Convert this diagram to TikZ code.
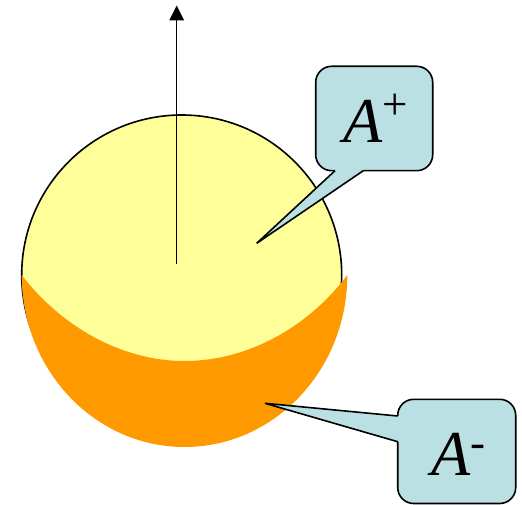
\documentclass[tikz,border=0pt]{standalone}
\usepackage{fontspec}
\setmainfont{Liberation Serif}
\usetikzlibrary{arrows.meta}
\definecolor{sunyellow}{RGB}{255,255,153}
\definecolor{sunorange}{RGB}{255,153,0}
\definecolor{calloutblue}{RGB}{187,224,227}
\begin{document}
\begin{tikzpicture}[x=1pt,y=-1pt,
  outline/.style={line width=1.6pt, draw=black},
  bubble/.style={outline, fill=calloutblue, rounded corners=16pt},
  bigA/.style={anchor=base west, inner sep=0pt, font=\fontsize{64}{64}\selectfont},
  axisarrow/.style={line width=1.5pt, -{Triangle[length=15pt,width=14.7pt]}}]
\useasboundingbox (0,0) rectangle (522,505);

% sphere
\coordinate (centre) at (181.7,275);
\fill[sunyellow] (centre) circle[radius=160];
\draw[outline] (centre) circle[radius=160];
\fill[sunorange] (21.7,275) .. controls (21.7,370) and (94.6,447) .. (184.5,447)
  .. controls (274.4,447) and (347.3,370) .. (347.3,275)
  .. controls (310,325) and (250,361) .. (184.5,361)
  .. controls (120,361) and (60,325) .. (21.7,275) -- cycle;

% axis arrow
\coordinate (axisbase) at (176.7,264);
\coordinate (axistip) at (176.7,5.5);
\draw[axisarrow] (axisbase) -- (axistip);

% callout A+
\draw[bubble] (315.7,66.3) rectangle (432.7,170.7);
\coordinate (ptip) at (256.7,243.3);
\coordinate (pbaseL) at (335,170.7);
\coordinate (pbaseR) at (363.3,170.7);
\fill[calloutblue] (pbaseL) -- (ptip) -- (pbaseR) -- (363.3,165) -- (335,165) -- cycle;
\draw[outline] (pbaseL) -- (ptip) -- (pbaseR);
\node[bigA] (aplus) at (343.3,142.7) {\textit{A}\raisebox{22.7pt}{\fontsize{45}{45}\selectfont +}};

% callout A-
\draw[bubble] (397.7,399.3) rectangle (515.7,503.5);
\coordinate (mtip) at (265,403.3);
\coordinate (mbaseT) at (397.7,416);
\coordinate (mbaseB) at (397.7,441.7);
\fill[calloutblue] (mbaseT) -- (mtip) -- (mbaseB) -- (403,441.7) -- (403,416) -- cycle;
\draw[outline] (mbaseT) -- (mtip) -- (mbaseB);
\node[bigA] (aminus) at (431.2,475) {\textit{A}\raisebox{17.3pt}{\fontsize{45}{45}\selectfont -}};
\end{tikzpicture}
\end{document}
